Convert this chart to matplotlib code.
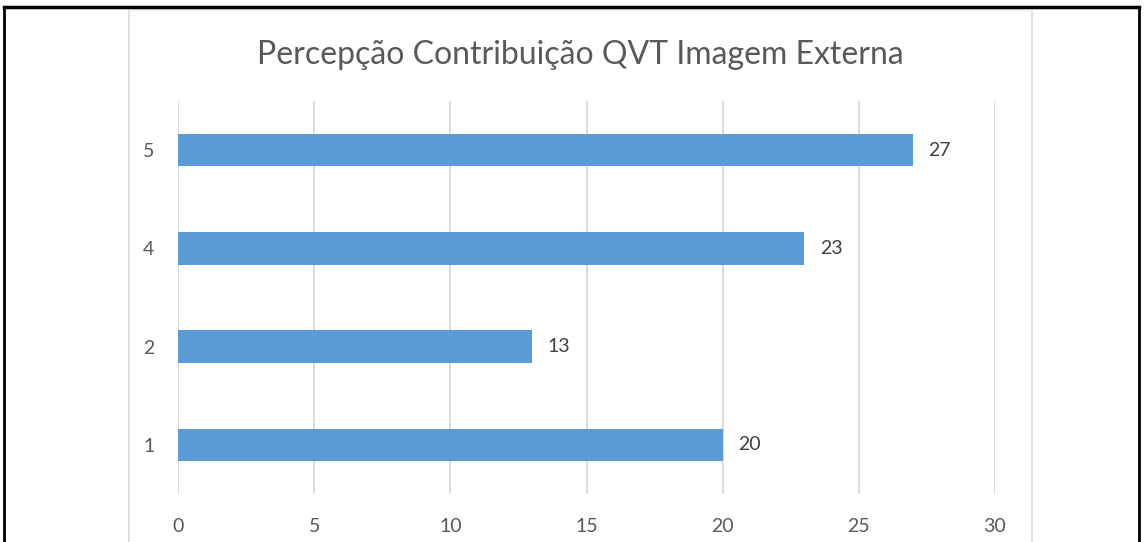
import matplotlib.pyplot as plt
from matplotlib.lines import Line2D

# dados
categorias = ["1", "2", "4", "5"]
valores = [20, 13, 23, 27]
titulo = "Percepção Contribuição QVT Imagem Externa"
xticks = [0, 5, 10, 15, 20, 25, 30]

plt.rcParams['font.family'] = ['Lato', 'DejaVu Sans']

W, H = 1144, 542
fig = plt.figure(figsize=(W / 100, H / 100), dpi=100)

# área do gráfico
ax = fig.add_axes([178 / W, 1 - 494 / H, (995 - 178) / W, (494 - 101) / H])
pos = range(len(categorias))
ax.barh(pos, valores, height=0.33, color='#5B9BD5', zorder=3)
ax.set_xlim(0, 30)
ax.set_ylim(-0.5, len(categorias) - 0.5)
ax.set_yticks(list(pos))
ax.set_yticklabels(categorias)
ax.set_xticks(xticks)
ax.grid(axis='x', color='#D9D9D9', linewidth=1.3, zorder=0)
for s in ax.spines.values():
    s.set_visible(False)
ax.tick_params(axis='both', length=0, labelsize=14, labelcolor='#595959')
ax.tick_params(axis='y', pad=17)
ax.tick_params(axis='x', pad=17)

for p, v in zip(pos, valores):
    ax.annotate(str(v), (v, p), xytext=(11, 0), textcoords='offset points',
                va='center', ha='left', fontsize=14, color='#404040')

fig.text(580 / W, 1 - 55 / H, titulo, ha='center', va='center',
         fontsize=23, color='#595959')

# moldura do gráfico (cinza)
for x in (129, 1032):
    fig.add_artist(Line2D([x / W, x / W], [0, 1 - 10 / H], color='#D9D9D9', linewidth=1.2))
fig.add_artist(Line2D([129 / W, 1032 / W], [1 - 10 / H, 1 - 10 / H], color='#EEEEEE', linewidth=1))

# borda preta externa
fig.add_artist(Line2D([4 / W, 4 / W], [0, 1 - 7 / H], color='black', linewidth=2))
fig.add_artist(Line2D([1139 / W, 1139 / W], [0, 1 - 7 / H], color='black', linewidth=2))
fig.add_artist(Line2D([4 / W, 1139 / W], [1 - 7 / H, 1 - 7 / H], color='black', linewidth=2.5))

fig.savefig('out.png', dpi=100)
